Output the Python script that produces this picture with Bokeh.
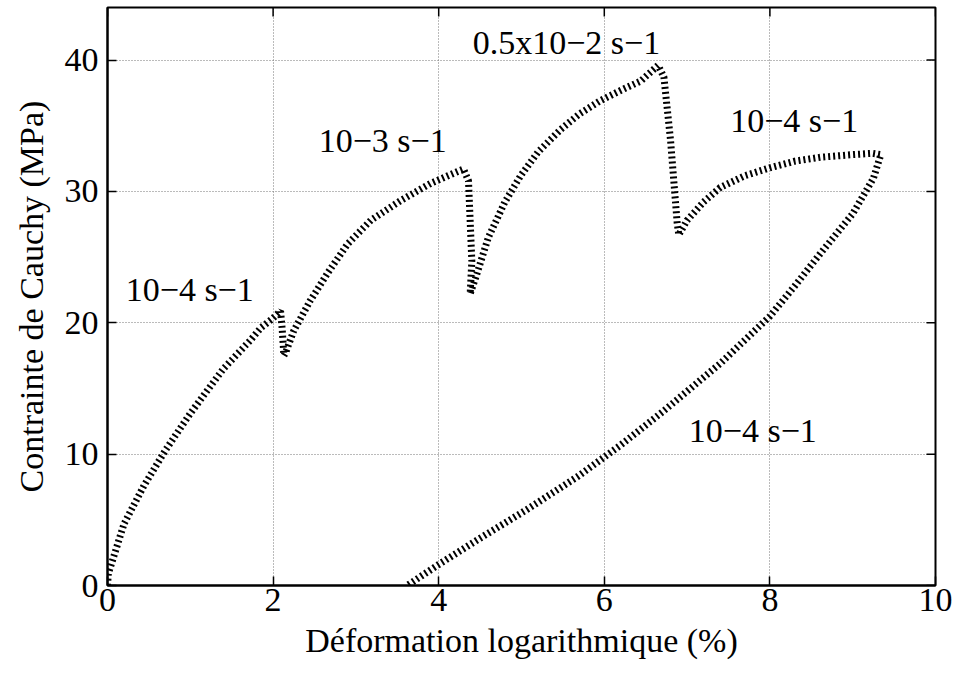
import math
from bokeh.plotting import figure
from bokeh.models import FixedTicker, Range1d, ColumnDataSource
from bokeh.core.properties import value
from bokeh.embed import file_html
from bokeh.resources import INLINE

# --- data ---
seg1_x = [0.0, 0.01, 0.2, 0.44, 0.70, 1.0, 1.4, 1.73, 1.85, 1.99, 2.09]
seg1_y = [0.0, 0.9, 4.7, 7.6, 10.3, 13.1, 16.5, 18.7, 19.6, 20.3, 20.9]
drop1_x = [2.11, 2.13]
drop1_y = [19.5, 17.5]
seg2_x = [2.15, 2.25, 2.45, 2.66, 2.90, 3.18, 3.54, 3.90, 4.26, 4.30]
seg2_y = [17.7, 19.4, 21.7, 23.8, 26.0, 27.8, 29.3, 30.6, 31.6, 31.7]
drop2_x = [4.36, 4.40, 4.38]
drop2_y = [30.8, 24.7, 22.2]
seg3_x = [4.45, 4.6, 4.8, 4.99, 5.2, 5.47, 5.7, 5.95, 6.2, 6.44, 6.65]
seg3_y = [23.5, 26.5, 29.2, 31.2, 33.0, 34.7, 35.9, 36.9, 37.7, 38.4, 39.6]
drop3_x = [6.72, 6.80, 6.88, 6.90]
drop3_y = [38.7, 33.9, 27.6, 26.7]
seg4_x = [7.0, 7.2, 7.4, 7.7, 8.0, 8.3, 8.61, 9.0, 9.24, 9.34]
seg4_y = [27.8, 29.2, 30.3, 31.2, 31.8, 32.3, 32.6, 32.8, 32.9, 32.8]
seg5_x = [9.25, 9.0, 8.6, 8.3, 8.0, 7.4, 6.7, 6.2, 5.68, 5.07, 4.5, 4.0, 3.62]
seg5_y = [31.0, 28.3, 25.2, 22.8, 20.5, 16.9, 13.2, 10.7, 8.3, 5.8, 3.6, 1.6, 0.0]

label_x = [0.22, 2.55, 4.41, 7.52, 7.02]
label_y = [22.5, 33.9, 41.3, 35.4, 11.8]
label_text = ["10\u22124 s\u22121", "10\u22123 s\u22121", "0.5x10\u22122 s\u22121",
              "10\u22124 s\u22121", "10\u22124 s\u22121"]

x_ticks = [0, 2, 4, 6, 8, 10]
y_ticks = [0, 10, 20, 30, 40]
X_MAX = 10
Y_MAX = 44

FONT = "Liberation Serif"
FS = "34px"

xs = seg1_x + drop1_x + seg2_x + drop2_x + seg3_x + drop3_x + seg4_x + seg5_x
ys = seg1_y + drop1_y + seg2_y + drop2_y + seg3_y + drop3_y + seg4_y + seg5_y

p = figure(width=952, height=665, output_backend="svg", toolbar_location=None,
           x_range=Range1d(0, X_MAX), y_range=Range1d(0, Y_MAX),
           min_border_left=107, min_border_right=17, min_border_top=7,
           min_border_bottom=80)

p.outline_line_color = "black"
p.outline_line_width = 2

p.xgrid.ticker = FixedTicker(ticks=x_ticks)
p.ygrid.ticker = FixedTicker(ticks=y_ticks)
p.grid.grid_line_color = "#777777"
p.grid.grid_line_dash = "1 2"
p.grid.grid_line_width = 1

p.line(xs, ys, line_color="black", line_width=7, line_dash="2 3", line_cap="butt")

src = ColumnDataSource(dict(x=label_x, y=label_y, t=label_text))
p.text("x", "y", text="t", source=src, text_font=value(FONT), text_font_size=FS,
       text_align="left", text_baseline="middle", text_color="black")

# inward ticks on the top and right edges of the frame
p.ray(x=x_ticks, y=[Y_MAX] * len(x_ticks), length=9, length_units="screen",
      angle=-math.pi / 2, line_color="black", line_width=1.5)
p.ray(x=[X_MAX] * len(y_ticks), y=y_ticks, length=9, length_units="screen",
      angle=math.pi, line_color="black", line_width=1.5)

for ax in (p.xaxis[0], p.yaxis[0]):
    ax.major_tick_in = 9
    ax.major_tick_out = 0
    ax.minor_tick_line_color = None
    ax.axis_line_width = 2
    ax.major_tick_line_width = 1.5
    ax.major_label_text_font = FONT
    ax.major_label_text_font_size = FS
    ax.major_label_text_color = "black"
    ax.axis_label_text_font = FONT
    ax.axis_label_text_font_size = FS
    ax.axis_label_text_font_style = "normal"
    ax.axis_label_text_color = "black"

p.xaxis.ticker = FixedTicker(ticks=x_ticks)
p.yaxis.ticker = FixedTicker(ticks=y_ticks)
p.xaxis.axis_label = "Déformation logarithmique (%)"
p.yaxis.axis_label = "Contrainte de Cauchy (MPa)"
p.xaxis.major_label_standoff = 3
p.xaxis.axis_label_standoff = 8
p.yaxis.major_label_standoff = 9
p.yaxis.axis_label_standoff = 12

open("out.html", "w").write(file_html(p, INLINE))
